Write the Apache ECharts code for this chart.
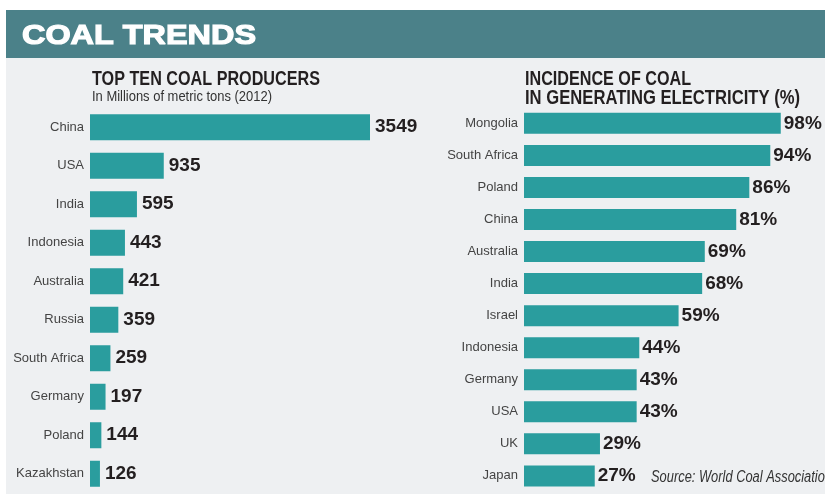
<!DOCTYPE html>
<html>
<head>
<meta charset="utf-8">
<script src="https://cdn.jsdelivr.net/npm/echarts@6/dist/echarts.min.js"></script>
<style>
  html, body { margin: 0; padding: 0; background: #fff; }
  #chart { width: 825px; height: 494px; }
</style>
</head>
<body>
<div id="chart"></div>
<script>
const producerNames = ['China', 'USA', 'India', 'Indonesia', 'Australia', 'Russia', 'South Africa', 'Germany', 'Poland', 'Kazakhstan'];
const producerTons = [3549, 935, 595, 443, 421, 359, 259, 197, 144, 126];

const incidenceNames = ['Mongolia', 'South Africa', 'Poland', 'China', 'Australia', 'India', 'Israel', 'Indonesia', 'Germany', 'USA', 'UK', 'Japan'];
const incidencePct = [98, 94, 86, 81, 69, 68, 59, 44, 43, 43, 29, 27];

const sans = "'Liberation Sans', Arial, sans-serif";
const teal = '#2a9d9e';
const ink = '#231f20';

// the original uses a condensed face; squeeze regular text to the width it takes there
const ctx = document.createElement('canvas').getContext('2d');
const squeezed = (text, font, x, y, width, fill, extra) => {
  ctx.font = font;
  const w = ctx.measureText(text).width;
  return {
    type: 'text', x, y, scaleX: width / w,
    style: Object.assign({ text, font, fill, align: 'left', verticalAlign: 'middle' }, extra || {})
  };
};

const chart = echarts.init(document.getElementById('chart'));

const catAxis = (gridIndex, data) => ({
  type: 'category', gridIndex, data, inverse: true,
  axisLine: { show: false }, axisTick: { show: false },
  axisLabel: { color: '#444', fontFamily: sans, fontSize: 13, margin: 6 }
});

const valAxis = (gridIndex, max) => ({
  type: 'value', gridIndex, min: 0, max, show: false
});

const barLabel = (fmt, distance) => ({
  show: true, position: 'right', distance,
  color: ink, fontFamily: sans, fontWeight: 'bold', fontSize: 19,
  formatter: fmt
});

chart.setOption({
  backgroundColor: '#fff',
  animation: false,
  graphic: [
    { type: 'rect', shape: { x: 6, y: 58, width: 819, height: 436 }, style: { fill: '#eef0f2' } },
    { type: 'rect', shape: { x: 6, y: 10, width: 819, height: 48 }, style: { fill: '#4b8189' } },
    squeezed('COAL TRENDS', "bold 28px " + sans, 22, 36, 234, '#fff', { stroke: '#fff', lineWidth: 1.2 }),
    squeezed('TOP TEN COAL PRODUCERS', "bold 20px " + sans, 92, 79, 228, ink),
    squeezed('In Millions of metric tons (2012)', "14px " + sans, 92, 97, 180, '#333'),
    squeezed('INCIDENCE OF COAL', "bold 20px " + sans, 525, 79.5, 166, ink),
    squeezed('IN GENERATING ELECTRICITY (%)', "bold 20px " + sans, 525, 98.5, 275, ink),
    squeezed('Source: World Coal Association', "italic 16px " + sans, 651, 478, 181, '#333')
  ],
  grid: [
    { left: 90, top: 108, width: 280, height: 385 },
    { left: 524, top: 107.3, width: 262, height: 384.6 }
  ],
  xAxis: [valAxis(0, 3549), valAxis(1, 100)],
  yAxis: [catAxis(0, producerNames), catAxis(1, incidenceNames)],
  series: [
    {
      type: 'bar', xAxisIndex: 0, yAxisIndex: 0, data: producerTons,
      barWidth: 26, itemStyle: { color: teal },
      label: barLabel('{c}', 5)
    },
    {
      type: 'bar', xAxisIndex: 1, yAxisIndex: 1, data: incidencePct,
      barWidth: 21, itemStyle: { color: teal },
      label: barLabel('{c}%', 3)
    }
  ]
});
</script>
</body>
</html>
